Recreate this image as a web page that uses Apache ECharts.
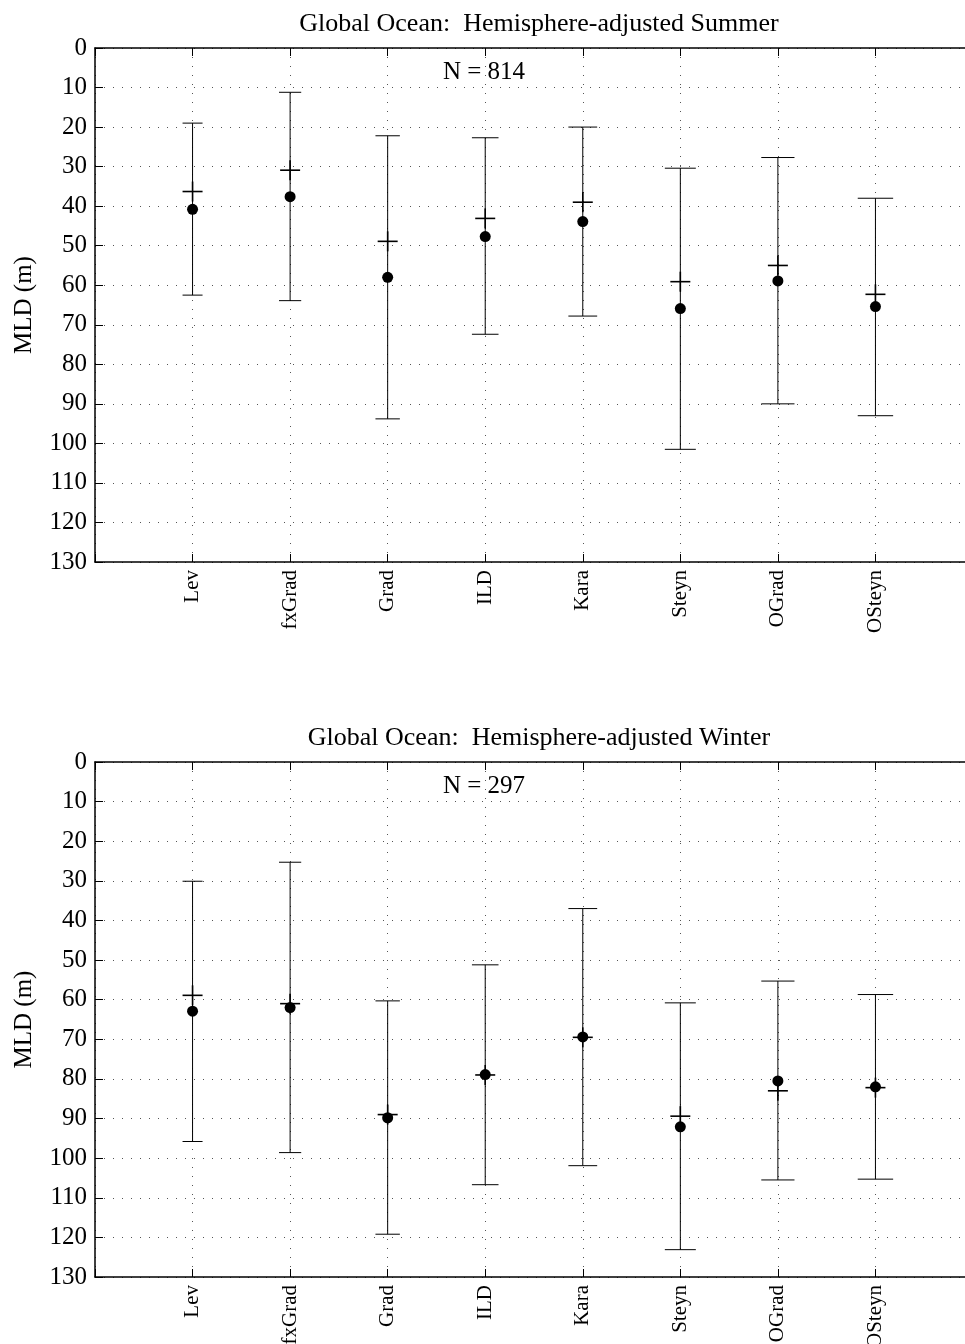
<!DOCTYPE html>
<html>
<head>
<meta charset="utf-8">
<script src="https://cdn.jsdelivr.net/npm/echarts@6/dist/echarts.min.js"></script>
<style>
html,body{margin:0;padding:0;background:#fff;}
#chart{width:965px;height:1344px;}
</style>
</head>
<body>
<div id="chart"></div>
<script>
// ---- data ----
const categories = ['Lev','fxGrad','Grad','ILD','Kara','Steyn','OGrad','OSteyn'];
const yTicks = [0,10,20,30,40,50,60,70,80,90,100,110,120,130];

const summerTitle = 'Global Ocean:  Hemisphere-adjusted Summer';
const summerN = 'N = 814';
const summerMean   = [40.8, 37.6, 58.0, 47.7, 43.9, 65.9, 58.9, 65.4];
const summerMedian = [36.3, 30.9, 48.9, 43.1, 39.0, 59.1, 55.0, 62.3];
const summerLow    = [19.0, 11.2, 22.2, 22.7, 20.0, 30.4, 27.7, 38.0];
const summerHigh   = [62.5, 63.9, 93.8, 72.4, 67.8, 101.5, 90.0, 93.0];

const winterTitle = 'Global Ocean:  Hemisphere-adjusted Winter';
const winterN = 'N = 297';
const winterMean   = [62.9, 62.0, 89.8, 78.9, 69.4, 92.1, 80.5, 82.0];
const winterMedian = [58.9, 61.0, 89.0, 79.0, 69.5, 89.4, 83.0, 82.2];
const winterLow    = [30.1, 25.3, 60.3, 51.2, 37.0, 60.8, 55.3, 58.7];
const winterHigh   = [95.8, 98.6, 119.2, 106.7, 101.9, 123.1, 105.5, 105.3];

// ---- chart ----
const FONT = '"Liberation Serif", "Times New Roman", serif';
const chart = echarts.init(document.getElementById('chart'), null, {renderer:'canvas'});

const grids = [
  {left:95, top:48, width:878, height:514, containLabel:false, outerBoundsMode:'none'},
  {left:95, top:762, width:878, height:515, containLabel:false, outerBoundsMode:'none'}
];

const dotted = {show:true, lineStyle:{color:'#555', width:1, type:[1,8]}};

function xAxes(gi){
  return [
    {
      type:'value', gridIndex:gi, position:'bottom', min:0, max:categories.length+1, interval:1,
      axisLine:{show:true, onZero:false, lineStyle:{color:'#000', width:1.5}},
      axisTick:{show:true, inside:true, length:8, lineStyle:{color:'#000', width:1}},
      axisLabel:{show:true, rotate:90, margin:8, fontFamily:FONT, fontSize:21, color:'#000',
        formatter:function(v){ return categories[v-1] || ''; }},
      splitLine:dotted
    },
    {
      type:'value', gridIndex:gi, position:'top', min:0, max:categories.length+1, interval:1,
      axisLine:{show:true, onZero:false, lineStyle:{color:'#000', width:1.5}},
      axisTick:{show:true, inside:true, length:8, lineStyle:{color:'#000', width:1}},
      axisLabel:{show:false}, splitLine:{show:false}
    }
  ];
}
function yAxes(gi){
  return [
    {
      type:'value', gridIndex:gi, position:'left', inverse:true, min:yTicks[0], max:yTicks[yTicks.length-1], interval:10,
      name:'MLD (m)', nameLocation:'middle', nameGap:58,
      nameTextStyle:{fontFamily:FONT, fontSize:25, color:'#000'},
      axisLine:{show:true, onZero:false, lineStyle:{color:'#000', width:1.5}},
      axisTick:{show:true, inside:true, length:8, lineStyle:{color:'#000', width:1}},
      axisLabel:{show:true, margin:8, fontFamily:FONT, fontSize:25, color:'#000'},
      splitLine:dotted
    },
    {
      type:'value', gridIndex:gi, position:'right', inverse:true, min:yTicks[0], max:yTicks[yTicks.length-1], interval:10,
      axisLine:{show:true, onZero:false, lineStyle:{color:'#000', width:1.5}},
      axisTick:{show:true, inside:true, length:8, lineStyle:{color:'#000', width:1}},
      axisLabel:{show:false}, splitLine:{show:false}
    }
  ];
}

function barData(low, high, med){
  return categories.map((c,i)=>[i+1, low[i], high[i], med[i]]);
}
function dotData(mean){
  return categories.map((c,i)=>[i+1, mean[i]]);
}

function renderBar(params, api){
  const x = api.value(0);
  const pLow = api.coord([x, api.value(1)]);
  const pHigh = api.coord([x, api.value(2)]);
  const pMed = api.coord([x, api.value(3)]);
  const capHalf = 10 + 1.1*(x-1);
  const plusHalf = 10;
  const thin = {stroke:'#000', lineWidth:1};
  const thick = {stroke:'#000', lineWidth:1.6};
  return {
    type:'group',
    children:[
      {type:'line', shape:{x1:pLow[0], y1:pLow[1], x2:pHigh[0], y2:pHigh[1]}, style:thin},
      {type:'line', shape:{x1:pLow[0]-capHalf, y1:pLow[1], x2:pLow[0]+capHalf, y2:pLow[1]}, style:thin},
      {type:'line', shape:{x1:pHigh[0]-capHalf, y1:pHigh[1], x2:pHigh[0]+capHalf, y2:pHigh[1]}, style:thin},
      {type:'line', shape:{x1:pMed[0]-plusHalf, y1:pMed[1], x2:pMed[0]+plusHalf, y2:pMed[1]}, style:thick},
      {type:'line', shape:{x1:pMed[0], y1:pMed[1]-plusHalf, x2:pMed[0], y2:pMed[1]+plusHalf}, style:thick}
    ]
  };
}

const option = {
  backgroundColor:'#fff',
  animation:false,
  title:[
    {text:summerTitle, left:534, top:6, textAlign:'center',
     textStyle:{fontFamily:FONT, fontSize:26, fontWeight:'normal', color:'#000'}},
    {text:winterTitle, left:534, top:720, textAlign:'center',
     textStyle:{fontFamily:FONT, fontSize:26, fontWeight:'normal', color:'#000'}}
  ],
  grid:grids,
  xAxis:[...xAxes(0), ...xAxes(1)],
  yAxis:[...yAxes(0), ...yAxes(1)],
  graphic:[
    {type:'text', x:484, y:72, style:{text:summerN, font:'25px '+FONT, fill:'#000', textAlign:'center', textVerticalAlign:'middle'}},
    {type:'text', x:484, y:786, style:{text:winterN, font:'25px '+FONT, fill:'#000', textAlign:'center', textVerticalAlign:'middle'}}
  ],
  series:[
    {type:'custom', xAxisIndex:0, yAxisIndex:0, renderItem:renderBar, data:barData(summerLow, summerHigh, summerMedian), clip:false, z:3},
    {type:'scatter', xAxisIndex:0, yAxisIndex:0, data:dotData(summerMean), symbol:'circle', symbolSize:11, itemStyle:{color:'#000', opacity:1}, z:4},
    {type:'custom', xAxisIndex:2, yAxisIndex:2, renderItem:renderBar, data:barData(winterLow, winterHigh, winterMedian), clip:false, z:3},
    {type:'scatter', xAxisIndex:2, yAxisIndex:2, data:dotData(winterMean), symbol:'circle', symbolSize:11, itemStyle:{color:'#000', opacity:1}, z:4}
  ]
};
chart.setOption(option);
</script>
</body>
</html>
